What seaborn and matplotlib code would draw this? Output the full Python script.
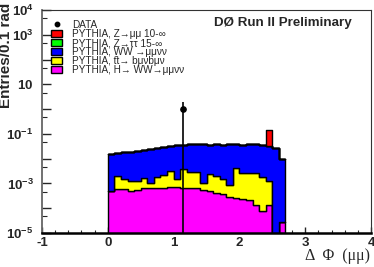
import numpy as np
import pandas as pd
import matplotlib
matplotlib.use("Agg")
import matplotlib.pyplot as plt
import seaborn as sns
from matplotlib.patches import Patch
from matplotlib.lines import Line2D
from matplotlib.ticker import FixedLocator, FuncFormatter

# ---------------- data ----------------
bin_edges = [round(i * 0.1, 2) for i in range(28)]          # 0.0 ... 2.7 (0.1 rad bins)
bin_centers = [round(e + 0.05, 3) for e in bin_edges[:-1]]

h_ww = [5.1e-4, 5.8e-4, 5.9e-4, 4.8e-4, 5.2e-4, 6.3e-4, 6.5e-4, 6.7e-4, 6.8e-4,
        7.0e-4, 7.0e-4, 6.8e-4, 6.5e-4, 6.3e-4, 5.4e-4, 4.9e-4, 4.2e-4, 3.7e-4,
        2.9e-4, 2.6e-4, 2.4e-4, 2.1e-4, 1.35e-4, 8e-5, 1.4e-4, 0.0, 2.9e-5]
ttbar = [0.0, 1.42e-3, 9.1e-4, 8.2e-4, 7.8e-4, 1.07e-3, 4.2e-4, 1.18e-3, 1.42e-3,
         2.6e-3, 8.0e-4, 3.02e-3, 2.15e-3, 2.17e-3, 5.3e-4, 2.01e-3, 1.58e-3, 1.13e-3,
         5.8e-4, 3.94e-3, 2.46e-3, 2.49e-3, 2.57e-3, 1.77e-3, 1.06e-3, 0.0, 0.0]
ww = [0.0153, 0.0153, 0.0169, 0.0177, 0.0190, 0.0213, 0.0239, 0.0258, 0.0279,
      0.0297, 0.0339, 0.0323, 0.0352, 0.0362, 0.0369, 0.0335, 0.0360, 0.0355,
      0.0381, 0.0358, 0.0343, 0.0353, 0.0353, 0.0332, 0.0308, 0.0260, 0.0093]
z_tautau = [0.0] * 27
z_mumu = [0.0] * 24 + [0.108, 0.0, 0.0]

data_x = [1.15]
data_y = [1.0]
data_err = [1.0]

process_labels = ["PYTHIA, Z\u2192\u03bc\u03bc 10-\u221e",
                  "PYTHIA, Z\u2192\u03c4\u03c4 15-\u221e",
                  "PYTHIA, WW \u2192\u03bc\u03bc\u03bd\u03bd",
                  "PYTHIA, t\u0304t\u2192 b\u03bc\u03bdb\u03bc\u03bd",
                  "PYTHIA, H\u2192 WW\u2192\u03bc\u03bc\u03bd\u03bd"]
process_values = [z_mumu, z_tautau, ww, ttbar, h_ww]
process_colors = ["#ff0000", "#00ff00", "#0000ff", "#ffff00", "#ff00ff"]

y_label_exps = [-5, -3, -1, 1, 3, 4]

# ---------------- style ----------------
sns.set_style("white")
plt.rcParams["font.family"] = ["Liberation Sans", "DejaVu Sans"]
plt.rcParams["mathtext.fontset"] = "custom"
plt.rcParams["mathtext.rm"] = "Liberation Sans"
plt.rcParams["mathtext.bf"] = "Liberation Sans:bold"
plt.rcParams["axes.unicode_minus"] = False

W, H = 374, 267
fig = plt.figure(figsize=(W / 100, H / 100), dpi=100)
ax = fig.add_axes([42 / W, 1 - 233 / H, (371 - 42) / W, (233 - 10) / H])

rows = []
for lab, vals in zip(process_labels, process_values):
    for xc, v in zip(bin_centers, vals):
        rows.append({"x": xc, "w": v, "process": lab})
df = pd.DataFrame(rows)

ax.set_yscale("log")
sns.histplot(data=df, x="x", weights="w", hue="process", hue_order=process_labels,
             palette=dict(zip(process_labels, process_colors)), bins=bin_edges,
             multiple="stack", element="step", fill=True, alpha=1,
             edgecolor="black", linewidth=1.0, legend=False, ax=ax)

ax.errorbar(data_x, data_y,
            yerr=[[e * 0.999999 for e in data_err], data_err],
            fmt="o", color="black", markersize=3.8, elinewidth=1.2, capsize=0, zorder=5)

ax.set_xlim(-1, 4)
ax.set_ylim(1e-5, 1e4)
ax.set_xlabel("")
ax.set_ylabel("")

# x ticks
ax.xaxis.set_major_locator(FixedLocator([-1, 0, 1, 2, 3, 4]))
ax.xaxis.set_minor_locator(FixedLocator(np.round(np.arange(-1, 4.01, 0.2), 2)))
ax.tick_params(axis="x", which="major", direction="in", length=4.5, width=1.0,
               labelsize=9.5, pad=3, bottom=True, top=False)
ax.tick_params(axis="x", which="minor", direction="in", length=2.3, width=0.8,
               bottom=True, top=False)
for t in ax.get_xticklabels():
    t.set_fontweight("bold")

# y ticks
major_y = [10.0 ** k for k in range(-5, 5)]
minor_y = [10.0 ** (k - 1.0 / 3.0) for k in range(-4, 5)]
ax.yaxis.set_major_locator(FixedLocator(major_y))
ax.yaxis.set_minor_locator(FixedLocator(minor_y))


def fmt_y(v, pos):
    e = int(round(np.log10(v)))
    if e not in y_label_exps:
        return ""
    if e == 1:
        return r"$\mathbf{10}$"
    return r"$\mathbf{10^{%d}}$" % e


ax.yaxis.set_major_formatter(FuncFormatter(fmt_y))
ax.yaxis.set_minor_formatter(FuncFormatter(lambda v, p: ""))
ax.tick_params(axis="y", which="major", direction="in", length=6.5, width=1.0,
               labelsize=9.5, pad=6, left=True, right=False)
ax.tick_params(axis="y", which="minor", direction="in", length=3.5, width=0.8,
               left=True, right=False)

for side in ["top", "right"]:
    ax.spines[side].set_color("#333333")
    ax.spines[side].set_linewidth(0.8)
ax.spines["left"].set_color("#666666")
ax.spines["left"].set_linewidth(1.3)
ax.spines["bottom"].set_color("black")
ax.spines["bottom"].set_linewidth(1.8)

# legend
handles = [Line2D([], [], marker="o", color="black", linestyle="none", markersize=3.2)]
for c in process_colors:
    handles.append(Patch(facecolor=c, edgecolor="black", linewidth=1.0))
labels = ["DATA"] + process_labels
fig.legend(handles, labels, loc="upper left", bbox_to_anchor=(51 / W, 1 - 20 / H),
           frameon=False, fontsize=7.2, handlelength=1.13, handleheight=0.72,
           handletextpad=1.0, labelspacing=-0.1, borderpad=0, borderaxespad=0)

fig.text(352 / W, 1 - 23 / H, "D\u00d8 Run II Preliminary", ha="right", va="center",
         fontsize=9.6, fontweight="bold")
fig.text(370 / W, 1 - 256 / H, "\u0394  \u03a6  (\u03bc\u03bc)", ha="right", va="center",
         fontsize=11.5, family=["Liberation Serif", "DejaVu Serif"])
fig.text(6.5 / W, 1 - 3 / H, "Entries/0.1 rad", ha="center", va="top", rotation=90,
         fontsize=11, fontweight="bold")

fig.savefig("out.png", dpi=100)
